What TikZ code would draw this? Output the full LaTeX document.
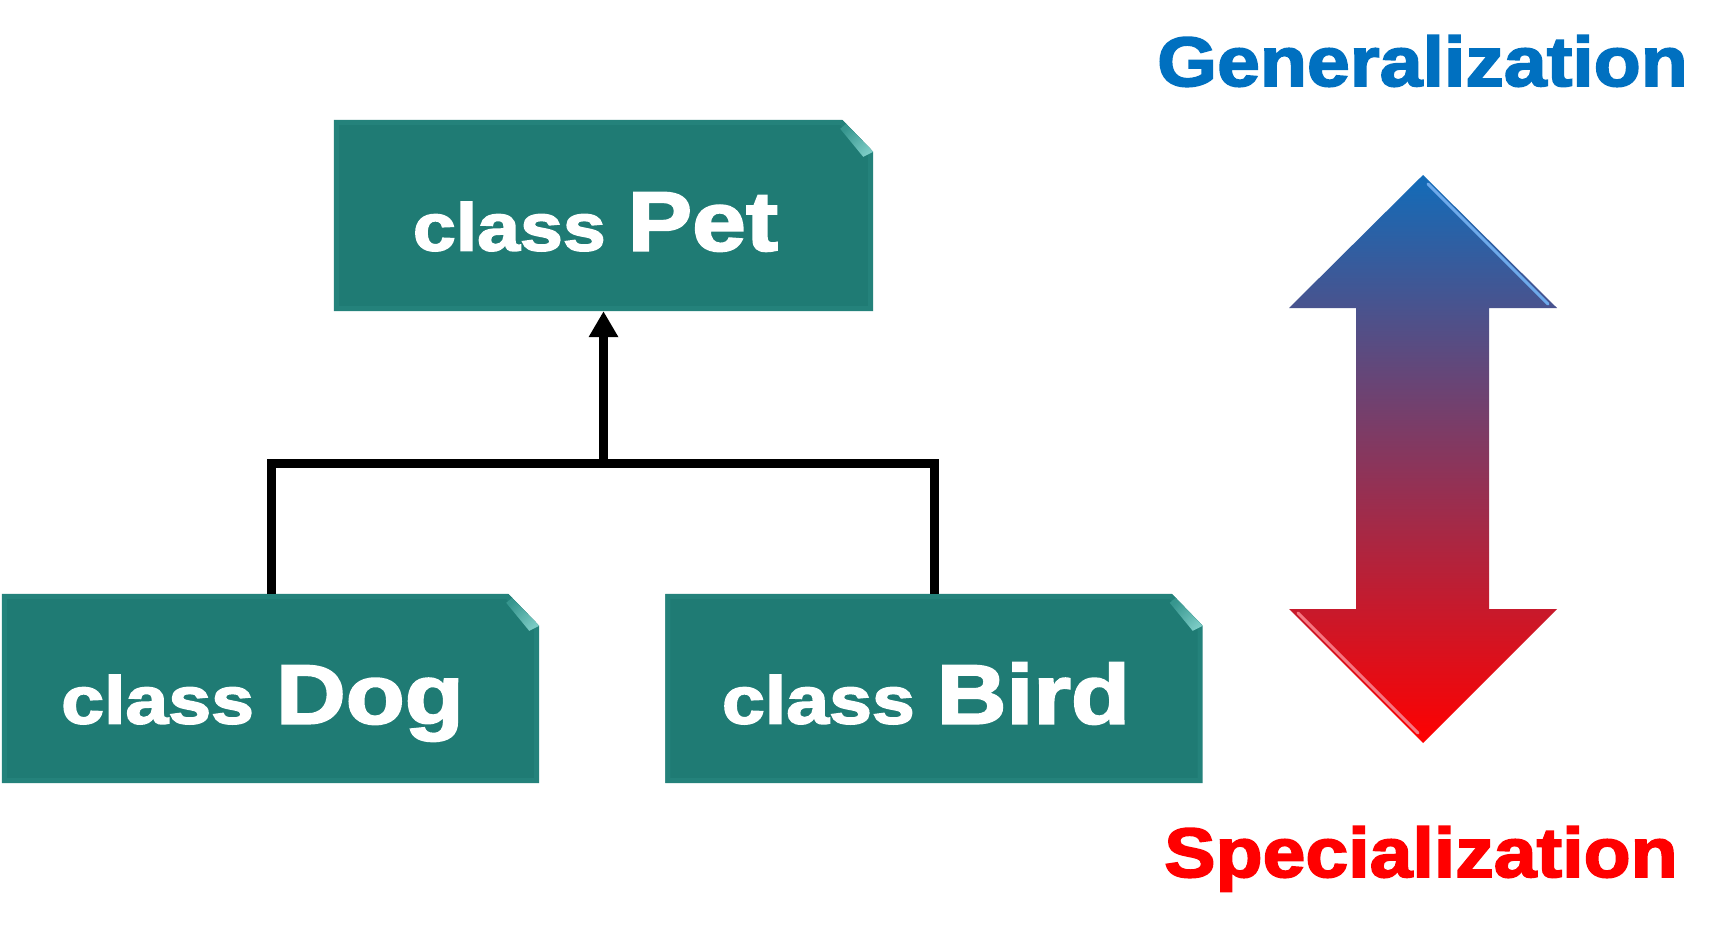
\documentclass[tikz,border=0pt]{standalone}
\usepackage{fontspec}
\usetikzlibrary{arrows.meta}
\newfontfamily\heavy{Liberation Sans}[FakeStretch=1.15,BoldFeatures={FakeBold=2.5}]
\newfontfamily\heavyt{Liberation Sans}[FakeStretch=1.1,BoldFeatures={FakeBold=2.5}]
\definecolor{tealbox}{RGB}{31,123,116}
\definecolor{tealbevel}{RGB}{36,130,123}
\definecolor{tealfold}{RGB}{90,190,182}
\definecolor{genblue}{RGB}{0,112,192}
\definecolor{specred}{RGB}{255,0,0}
\definecolor{arrtop}{RGB}{18,108,185}
\definecolor{hiblue}{RGB}{110,170,235}
\definecolor{hired}{RGB}{245,120,130}
\tikzset{
  boxnode/.style={draw=none,fill=none,inner sep=0pt,minimum width=537pt,minimum height=189pt},
  boxtext/.style={anchor=base,inner sep=0pt,text=white,font=\heavy\bfseries},
  conn/.style={draw=black,line width=9pt,line join=miter},
  title/.style={anchor=base west,inner sep=0pt,font=\heavyt\bfseries\fontsize{70}{70}\selectfont},
}
\newcommand\foldbox[1]{%
  \begin{scope}
    \clip (#1.south west) -- (#1.north west) -- ([xshift=-31pt]#1.north east) -- ([yshift=-32pt]#1.north east) -- (#1.south east) -- cycle;
    \fill[tealbox] (#1.south west) rectangle (#1.north east);
    \draw[tealbevel,line width=10pt] (#1.south west) -- (#1.north west) -- ([xshift=-31pt]#1.north east) -- ([yshift=-32pt]#1.north east) -- (#1.south east) -- cycle;
    \shade[left color=tealbox!60!tealfold,right color=tealfold!80!white,shading angle=45] ([xshift=-27pt,yshift=-4pt]#1.north east) -- ([yshift=-32pt]#1.north east) -- ([xshift=-10pt,yshift=-37pt]#1.north east) -- ([xshift=-33pt,yshift=-9pt]#1.north east) -- cycle;
  \end{scope}}
\newcommand\cls[1]{\fontsize{67}{67}\selectfont class\hspace{22pt}\fontsize{84}{84}\selectfont #1}
\begin{document}
\begin{tikzpicture}[x=1pt,y=-1pt]
\useasboundingbox[fill=white] (0,0) rectangle (1726,935);
% boxes
\node[boxnode,minimum width=539pt,minimum height=191pt] (pet) at (603.5,215.5) {};
\node[boxnode] (dog) at (270.5,688.5) {};
\node[boxnode] (bird) at (934,688.5) {};
\foldbox{pet}
\foldbox{dog}
\foldbox{bird}
\node[boxtext] (pettext) at ([shift={(-8,35)}]pet.center) {\cls{Pet}};
\node[boxtext] (dogtext) at ([shift={(-8,35)}]dog.center) {\cls{Dog}};
\node[boxtext] (birdtext) at ([shift={(-8,35)}]bird.center) {\cls{Bird}};
% connectors
\coordinate (j) at (603.5,463);
\draw[conn] ([xshift=0.5pt]dog.north) |- (j) -| (bird.north);
\draw[conn,-{Triangle[width=28pt,length=26pt]}] (j) -- (pet.south);
% double arrow
\shade[top color=arrtop,bottom color=specred]
  (1423,175) -- (1557,308) -- (1489,308) -- (1489,609) -- (1557,609) -- (1423,743)
  -- (1289,609) -- (1356,609) -- (1356,308) -- (1289,308) -- cycle;
\draw[hiblue,line width=3pt,line cap=round] (1428,184) -- (1548,304);
\draw[hired,line width=3pt,line cap=round] (1298,613) -- (1418,733);
% titles
\node[title,text=genblue] (gen) at (1157,86) {Generalization};
\node[title,text=specred] (spec) at (1164,877) {Specialization};
\end{tikzpicture}
\end{document}
